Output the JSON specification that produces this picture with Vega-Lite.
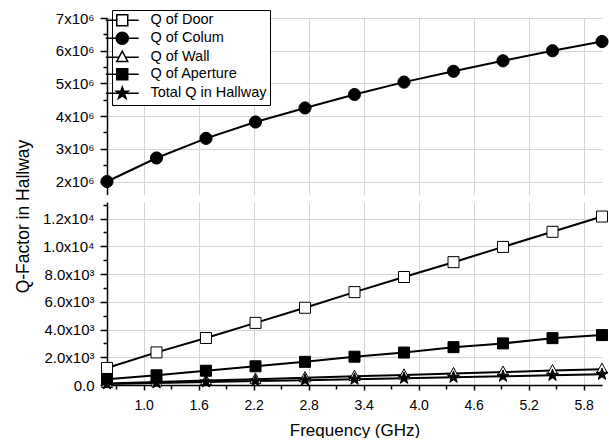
{
  "$schema": "https://vega.github.io/schema/vega-lite/v6.json",
  "padding": {"left": 13, "top": 9, "right": 0, "bottom": 0},
  "spacing": 7,
  "bounds": "flush",
  "config": {
    "font": "Liberation Sans",
    "view": {"stroke": null},
    "axis": {
      "domainColor": "black", "tickColor": "black", "labelColor": "black", "titleColor": "black",
      "gridColor": "#d4d4d4", "gridWidth": 1, "domainWidth": 1.5, "tickWidth": 1.5,
      "labelFont": "Liberation Sans", "titleFont": "Liberation Sans", "titleFontWeight": "normal"
    }
  },
  "datasets": {
    "q": [
      {"f": 0.6, "series": "Q of Door", "q": 1230},
      {"f": 1.14, "series": "Q of Door", "q": 2350},
      {"f": 1.68, "series": "Q of Door", "q": 3390},
      {"f": 2.22, "series": "Q of Door", "q": 4480},
      {"f": 2.76, "series": "Q of Door", "q": 5570},
      {"f": 3.3, "series": "Q of Door", "q": 6700},
      {"f": 3.84, "series": "Q of Door", "q": 7790},
      {"f": 4.38, "series": "Q of Door", "q": 8860},
      {"f": 4.92, "series": "Q of Door", "q": 9960},
      {"f": 5.46, "series": "Q of Door", "q": 11050},
      {"f": 6.0, "series": "Q of Door", "q": 12150},
      {"f": 0.6, "series": "Q of Colum", "q": 2000000},
      {"f": 1.14, "series": "Q of Colum", "q": 2720000},
      {"f": 1.68, "series": "Q of Colum", "q": 3320000},
      {"f": 2.22, "series": "Q of Colum", "q": 3820000},
      {"f": 2.76, "series": "Q of Colum", "q": 4250000},
      {"f": 3.3, "series": "Q of Colum", "q": 4660000},
      {"f": 3.84, "series": "Q of Colum", "q": 5040000},
      {"f": 4.38, "series": "Q of Colum", "q": 5370000},
      {"f": 4.92, "series": "Q of Colum", "q": 5690000},
      {"f": 5.46, "series": "Q of Colum", "q": 6000000},
      {"f": 6.0, "series": "Q of Colum", "q": 6280000},
      {"f": 0.6, "series": "Q of Wall", "q": 110},
      {"f": 1.14, "series": "Q of Wall", "q": 220},
      {"f": 1.68, "series": "Q of Wall", "q": 320},
      {"f": 2.22, "series": "Q of Wall", "q": 420},
      {"f": 2.76, "series": "Q of Wall", "q": 530},
      {"f": 3.3, "series": "Q of Wall", "q": 630},
      {"f": 3.84, "series": "Q of Wall", "q": 730},
      {"f": 4.38, "series": "Q of Wall", "q": 830},
      {"f": 4.92, "series": "Q of Wall", "q": 930},
      {"f": 5.46, "series": "Q of Wall", "q": 1040},
      {"f": 6.0, "series": "Q of Wall", "q": 1140},
      {"f": 0.6, "series": "Q of Aperture", "q": 420},
      {"f": 1.14, "series": "Q of Aperture", "q": 700},
      {"f": 1.68, "series": "Q of Aperture", "q": 1030},
      {"f": 2.22, "series": "Q of Aperture", "q": 1350},
      {"f": 2.76, "series": "Q of Aperture", "q": 1670},
      {"f": 3.3, "series": "Q of Aperture", "q": 2040},
      {"f": 3.84, "series": "Q of Aperture", "q": 2340},
      {"f": 4.38, "series": "Q of Aperture", "q": 2730},
      {"f": 4.92, "series": "Q of Aperture", "q": 3000},
      {"f": 5.46, "series": "Q of Aperture", "q": 3380},
      {"f": 6.0, "series": "Q of Aperture", "q": 3600},
      {"f": 0.6, "series": "Total Q in Hallway", "q": 80},
      {"f": 1.14, "series": "Total Q in Hallway", "q": 150},
      {"f": 1.68, "series": "Total Q in Hallway", "q": 220},
      {"f": 2.22, "series": "Total Q in Hallway", "q": 290},
      {"f": 2.76, "series": "Total Q in Hallway", "q": 350},
      {"f": 3.3, "series": "Total Q in Hallway", "q": 420},
      {"f": 3.84, "series": "Total Q in Hallway", "q": 490},
      {"f": 4.38, "series": "Total Q in Hallway", "q": 560},
      {"f": 4.92, "series": "Total Q in Hallway", "q": 630},
      {"f": 5.46, "series": "Total Q in Hallway", "q": 700},
      {"f": 6.0, "series": "Total Q in Hallway", "q": 770}
    ]
  },
  "vconcat": [
    {
      "width": 495,
      "height": 176.6,
      "data": {"name": "q"},
      "transform": [{"filter": "datum.series === 'Q of Colum'"}],
      "layer": [
        {
          "mark": {"type": "line", "color": "black", "strokeWidth": 2},
          "encoding": {
            "x": {"field": "f", "type": "quantitative",
              "scale": {"domain": [0.6, 6.0], "nice": false, "zero": false},
              "axis": {"orient": "bottom", "values": [1.0, 1.6, 2.2, 2.8, 3.4, 4.0, 4.6, 5.2, 5.8], "labels": false, "ticks": false, "domain": false, "grid": true, "title": null}},
            "y": {"field": "q", "type": "quantitative",
              "scale": {"domain": [1600000, 7000000], "nice": false, "zero": false},
              "axis": {"orient": "left", "values": [2000000, 3000000, 4000000, 5000000, 6000000, 7000000], "labelExpr": "format(datum.value/1000000, 'd') + 'x10⁶'", "labelFontSize": 15, "labelPadding": 6, "tickSize": 7, "grid": true, "title": null}},
            "detail": {"field": "series", "type": "nominal"}
          }
        },
        {
          "mark": {"type": "point", "filled": true, "stroke": "black", "strokeWidth": 1, "opacity": 1, "size": 121},
          "encoding": {
            "x": {"field": "f", "type": "quantitative", "axis": null},
            "y": {"field": "q", "type": "quantitative",
              "axis": {"orient": "left", "values": [2500000, 3500000, 4500000, 5500000, 6500000], "labels": false, "grid": false, "domain": false, "tickSize": 4, "title": null}},
            "shape": {"field": "series", "type": "nominal", "legend": null,
              "scale": {"domain": ["Q of Door", "Q of Colum", "Q of Wall", "Q of Aperture", "Total Q in Hallway"],
                "range": ["M-1,-1H1V1H-1Z", "M1.1,0A1.1,1.1,0,1,1,-1.1,0A1.1,1.1,0,1,1,1.1,0Z", "M0,-1.1L1,0.75L-1,0.75Z", "M-1,-1H1V1H-1Z", "M0,-1.15L0.27,-0.37L1.09,-0.36L0.44,0.14L0.68,0.93L0,0.46L-0.68,0.93L-0.44,0.14L-1.09,-0.36L-0.27,-0.37Z"]}},
            "fill": {"field": "series", "type": "nominal", "legend": null,
              "scale": {"domain": ["Q of Door", "Q of Colum", "Q of Wall", "Q of Aperture", "Total Q in Hallway"],
                "range": ["white", "black", "white", "black", "black"]}}
          }
        },
        {
          "transform": [{"filter": "false"}],
          "mark": {"type": "point", "filled": true, "stroke": "black", "strokeWidth": 1.5, "opacity": 1, "size": 121},
          "encoding": {
            "x": {"field": "f", "type": "quantitative", "axis": null},
            "y": {"field": "q", "type": "quantitative", "axis": null},
            "shape": {"field": "series", "type": "nominal",
              "scale": {"domain": ["Q of Door", "Q of Colum", "Q of Wall", "Q of Aperture", "Total Q in Hallway"],
                "range": ["M-3,0H-1M1,0H3M-1,-1H1V1H-1Z", "M-3,0H-1.1M1.1,0H3M1.1,0A1.1,1.1,0,1,1,-1.1,0A1.1,1.1,0,1,1,1.1,0Z", "M-3,0H-0.6M0.6,0H3M0,-1.1L1,0.75L-1,0.75Z", "M-3,0H3M-1,-1H1V1H-1Z", "M-3,0H3M0,-1.15L0.27,-0.37L1.09,-0.36L0.44,0.14L0.68,0.93L0,0.46L-0.68,0.93L-0.44,0.14L-1.09,-0.36L-0.27,-0.37Z"]},
              "legend": {"orient": "none", "legendX": 5, "legendY": -8, "title": null, "labelFontSize": 14.5, "labelColor": "black", "labelFont": "Liberation Sans", "symbolSize": 121, "symbolStrokeWidth": 1.5, "strokeColor": "black", "fillColor": "white", "padding": 3, "rowPadding": 0, "labelOffset": 21}},
            "fill": {"field": "series", "type": "nominal",
              "scale": {"domain": ["Q of Door", "Q of Colum", "Q of Wall", "Q of Aperture", "Total Q in Hallway"],
                "range": ["white", "black", "white", "black", "black"]},
              "legend": {"orient": "none", "legendX": 5, "legendY": -8, "title": null}}
          }
        }
      ],
      "resolve": {"axis": {"y": "independent", "x": "independent"}, "scale": {"shape": "independent", "fill": "independent"}}
    },
    {
      "width": 495,
      "height": 183,
      "data": {"name": "q"},
      "transform": [{"filter": "datum.series !== 'Q of Colum'"}],
      "layer": [
        {
          "mark": {"type": "line", "color": "black", "strokeWidth": 2},
          "encoding": {
            "x": {"field": "f", "type": "quantitative",
              "scale": {"domain": [0.6, 6.0], "nice": false, "zero": false},
              "axis": {"orient": "bottom", "values": [1.0, 1.6, 2.2, 2.8, 3.4, 4.0, 4.6, 5.2, 5.8], "format": ".1f", "labelFontSize": 14, "labelPadding": 8, "tickSize": 5, "grid": true, "title": "Frequency (GHz)", "titleFontSize": 17, "titlePadding": 10}},
            "y": {"field": "q", "type": "quantitative",
              "scale": {"domain": [0, 13200], "nice": false, "zero": false},
              "axis": {"orient": "left", "values": [0, 2000, 4000, 6000, 8000, 10000, 12000], "labelExpr": "datum.value == 0 ? '0.0' : (datum.value < 10000 ? format(datum.value/1000, '.1f') + 'x10³' : format(datum.value/10000, '.1f') + 'x10⁴')", "labelFontSize": 15, "labelPadding": 6, "tickSize": 7, "grid": true,
                "title": "Q-Factor in Hallway", "titleFontSize": 17.5, "titleX": -79, "titleY": 14, "titleBaseline": "alphabetic", "titleAlign": "center", "titleAngle": -90}},
            "detail": {"field": "series", "type": "nominal"}
          }
        },
        {
          "mark": {"type": "point", "filled": true, "stroke": "black", "strokeWidth": 1, "opacity": 1, "size": 121},
          "encoding": {
            "x": {"field": "f", "type": "quantitative",
              "axis": {"orient": "bottom", "values": [0.7, 1.3, 1.9, 2.5, 3.1, 3.7, 4.3, 4.9, 5.5], "labels": false, "grid": false, "domain": false, "tickSize": 4, "title": null}},
            "y": {"field": "q", "type": "quantitative",
              "axis": {"orient": "left", "values": [1000, 3000, 5000, 7000, 9000, 11000, 13000], "labels": false, "grid": false, "domain": false, "tickSize": 4, "title": null}},
            "shape": {"field": "series", "type": "nominal", "legend": null,
              "scale": {"domain": ["Q of Door", "Q of Colum", "Q of Wall", "Q of Aperture", "Total Q in Hallway"],
                "range": ["M-1,-1H1V1H-1Z", "M1.1,0A1.1,1.1,0,1,1,-1.1,0A1.1,1.1,0,1,1,1.1,0Z", "M0,-1.1L1,0.75L-1,0.75Z", "M-1,-1H1V1H-1Z", "M0,-1.15L0.27,-0.37L1.09,-0.36L0.44,0.14L0.68,0.93L0,0.46L-0.68,0.93L-0.44,0.14L-1.09,-0.36L-0.27,-0.37Z"]}},
            "fill": {"field": "series", "type": "nominal", "legend": null,
              "scale": {"domain": ["Q of Door", "Q of Colum", "Q of Wall", "Q of Aperture", "Total Q in Hallway"],
                "range": ["white", "black", "white", "black", "black"]}}
          }
        }
      ],
      "resolve": {"axis": {"y": "independent", "x": "independent"}}
    }
  ]
}
